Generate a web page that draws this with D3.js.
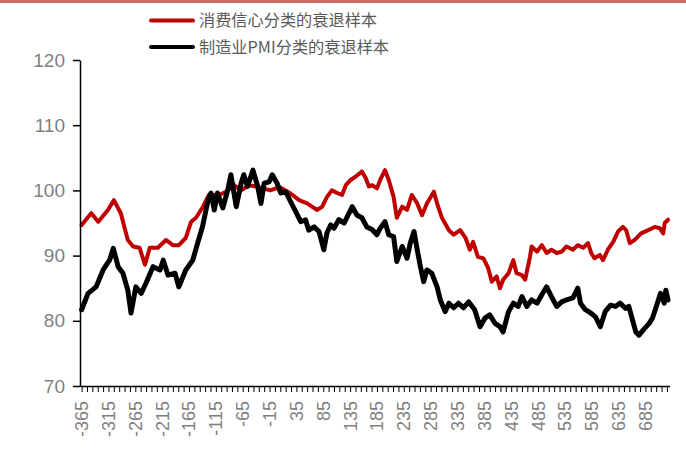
<!DOCTYPE html>
<html>
<head>
<meta charset="utf-8">
<script src="https://cdn.jsdelivr.net/npm/d3@7"></script>
<style>
  html, body { margin: 0; padding: 0; background: #fff; }
  svg { display: block; }
</style>
</head>
<body>
<svg id="chart" width="686" height="451"></svg>
<script>
// 消费信心分类的衰退样本 (days from recession start, index)
var redDays = [-365, -347, -334, -316, -305, -292, -279, -269, -257, -247, -238, -223, -208, -195, -184, -171, -161, -152, -139, -128, -109, -96, -81, -68, -53, -35, -14, 4, 23, 40, 55, 64, 73, 83, 92, 101, 111, 120, 127, 136, 145, 157, 164, 170, 176, 185, 191, 200, 207, 216, 222, 232, 241, 250, 260, 269, 278, 291, 297, 306, 319, 328, 340, 350, 358, 364, 373, 383, 392, 399, 408, 414, 420, 430, 439, 445, 455, 461, 470, 473, 483, 492, 501, 510, 520, 529, 538, 550, 559, 569, 578, 584, 590, 600, 606, 615, 625, 634, 643, 649, 656, 665, 677, 690, 702, 712, 718, 721, 727];
var redVals = [94.7, 96.5, 95.2, 97, 98.5, 96.5, 92.4, 91.4, 91.2, 88.6, 91.2, 91.2, 92.4, 91.6, 91.6, 92.7, 95.2, 95.8, 97.5, 99.3, 99.3, 99.8, 100.8, 100, 100.8, 100.5, 100, 100.5, 99.6, 98.5, 98, 97.5, 97, 97.5, 99, 100, 99.6, 99.3, 100.8, 101.6, 102.1, 102.9, 101.9, 100.6, 100.8, 100.3, 101.6, 103.1, 101.6, 99, 95.8, 97.5, 97, 99.3, 98, 96.2, 98, 99.8, 98, 95.8, 93.9, 93.2, 93.9, 92.7, 90.9, 92.1, 89.8, 89.6, 88.1, 86, 86.8, 85, 86.3, 87.3, 89.3, 87.3, 87, 86.3, 89.8, 91.4, 90.6, 91.6, 90.4, 90.9, 90.4, 90.6, 91.4, 90.9, 91.6, 91.2, 91.9, 90.4, 89.6, 90.1, 89.3, 90.9, 92.1, 93.7, 94.4, 93.9, 91.9, 92.4, 93.4, 93.9, 94.4, 94.2, 93.4, 95, 95.5];

// 制造业PMI分类的衰退样本
var blackDays = [-365, -353, -338, -325, -313, -306, -297, -288, -279, -273, -264, -254, -245, -232, -219, -213, -204, -191, -184, -171, -158, -149, -140, -130, -124, -118, -112, -102, -93, -87, -77, -68, -63, -56, -46, -37, -31, -25, -16, -10, -1, 6, 15, 24, 34, 43, 52, 58, 68, 77, 86, 92, 99, 105, 114, 124, 133, 139, 148, 157, 166, 176, 185, 191, 200, 207, 216, 222, 232, 241, 247, 254, 260, 266, 272, 278, 287, 297, 303, 312, 319, 328, 337, 346, 356, 367, 377, 386, 395, 405, 414, 420, 430, 439, 448, 455, 464, 473, 483, 492, 501, 510, 520, 529, 538, 550, 559, 564, 573, 583, 592, 601, 610, 620, 629, 638, 648, 654, 661, 667, 673, 683, 692, 698, 704, 713, 720, 723, 727];
var blackVals = [81.7, 84.2, 85.2, 87.8, 89.3, 91.1, 88.3, 87.3, 84.7, 81.2, 85.2, 84.2, 85.8, 88.3, 87.8, 89.3, 87, 87.3, 85.2, 87.8, 89.3, 91.9, 94.4, 98.3, 99.6, 97, 99.6, 97.3, 100, 102.4, 97.5, 101.1, 102.4, 100.6, 103.1, 100.6, 98, 101.1, 101.3, 102.4, 101.1, 99.6, 99.8, 98.3, 96.7, 95.2, 95.5, 93.9, 94.4, 93.7, 90.9, 93.5, 94.7, 94.2, 95.5, 95, 96.5, 97.5, 96.2, 95.8, 94.4, 94, 93.2, 94.2, 95.2, 93.2, 92.9, 89.1, 91.4, 89.6, 91.9, 93.7, 90.9, 88.3, 86, 87.8, 87.3, 85.2, 83.2, 81.4, 82.7, 82, 82.7, 82, 82.9, 81.7, 79.1, 80.4, 80.9, 79.6, 79.1, 78.3, 81.4, 82.7, 82.2, 83.7, 82.2, 83.2, 82.7, 84, 85.2, 83.7, 82.2, 82.9, 83.2, 83.5, 85, 82.7, 81.7, 81.2, 80.6, 79.1, 81.4, 82.4, 82.2, 82.7, 81.9, 82.2, 80.1, 78.3, 77.8, 78.8, 79.6, 80.4, 81.9, 84.2, 82.7, 84.7, 83.2];

var seriesNames = ["消费信心分类的衰退样本", "制造业PMI分类的衰退样本"];
var yTicks = [70, 80, 90, 100, 110, 120];
var xLabelTicks = [-365, -315, -265, -215, -165, -115, -65, -15, 35, 85, 135, 185, 235, 285, 335, 385, 435, 485, 535, 585, 635, 685];

var svg = d3.select("#chart");

// top rule
svg.append("rect").attr("x", 0).attr("y", 0).attr("width", 686).attr("height", 3).attr("fill", "#cc6a6a");

var x = d3.scaleLinear().domain([-368, 730]).range([80, 669.6]);
var y = d3.scaleLinear().domain([70, 120]).range([386, 60]);

// lines
var line = d3.line()
  .x(function (d) { return x(d[0]); })
  .y(function (d) { return y(d[1]); });

var red = d3.zip(redDays, redVals);
var black = d3.zip(blackDays, blackVals);

svg.append("path").datum(red)
  .attr("d", line).attr("fill", "none")
  .attr("stroke", "#c00000").attr("stroke-width", 4)
  .attr("stroke-linejoin", "round").attr("stroke-linecap", "round");
svg.append("path").datum(black)
  .attr("d", line).attr("fill", "none")
  .attr("stroke", "#000").attr("stroke-width", 5)
  .attr("stroke-linejoin", "round").attr("stroke-linecap", "round");

// y axis
var yAxis = svg.append("g").attr("transform", "translate(80,0)")
  .call(d3.axisLeft(y).tickValues(yTicks).tickSize(7).tickPadding(8).tickSizeOuter(0));
yAxis.select(".domain").attr("stroke", "#000").attr("stroke-width", 1.5);
yAxis.selectAll(".tick line").attr("stroke", "#000").attr("stroke-width", 1.5);
yAxis.selectAll("text").attr("font-family", "Liberation Sans, Arial, sans-serif")
  .attr("font-size", 19).attr("fill", "#7f7f7f");

// x axis: minor ticks every 10 days, labels every 50
var xAxis = svg.append("g").attr("transform", "translate(0,386)")
  .call(d3.axisBottom(x).tickValues(d3.range(-365, 730, 10)).tickSize(6).tickSizeOuter(0).tickFormat(""));
xAxis.select(".domain").attr("stroke", "#000").attr("stroke-width", 1.5);
xAxis.selectAll(".tick line").attr("stroke", "#000").attr("stroke-width", 1);

svg.append("g").selectAll("text").data(xLabelTicks).enter().append("text")
  .attr("transform", function (d) { return "translate(" + x(d) + ",401) rotate(-90)"; })
  .attr("text-anchor", "end")
  .attr("dy", "0.36em")
  .attr("font-family", "Liberation Sans, Arial, sans-serif")
  .attr("font-size", 18)
  .attr("fill", "#7f7f7f")
  .text(function (d) { return d; });

// legend
var legend = svg.append("g");
var colors = ["#c00000", "#000"];
var legendY = [20.5, 47];
seriesNames.forEach(function (name, i) {
  legend.append("line")
    .attr("x1", 151).attr("x2", 193).attr("y1", legendY[i]).attr("y2", legendY[i])
    .attr("stroke", colors[i]).attr("stroke-width", 4).attr("stroke-linecap", "round");
  legend.append("text")
    .attr("x", 199).attr("y", legendY[i]).attr("dy", "0.36em")
    .attr("font-family", "'Noto Sans CJK SC', sans-serif")
    .attr("font-size", 16.2)
    .attr("fill", "#595959")
    .text(name);
});
</script>
</body>
</html>
